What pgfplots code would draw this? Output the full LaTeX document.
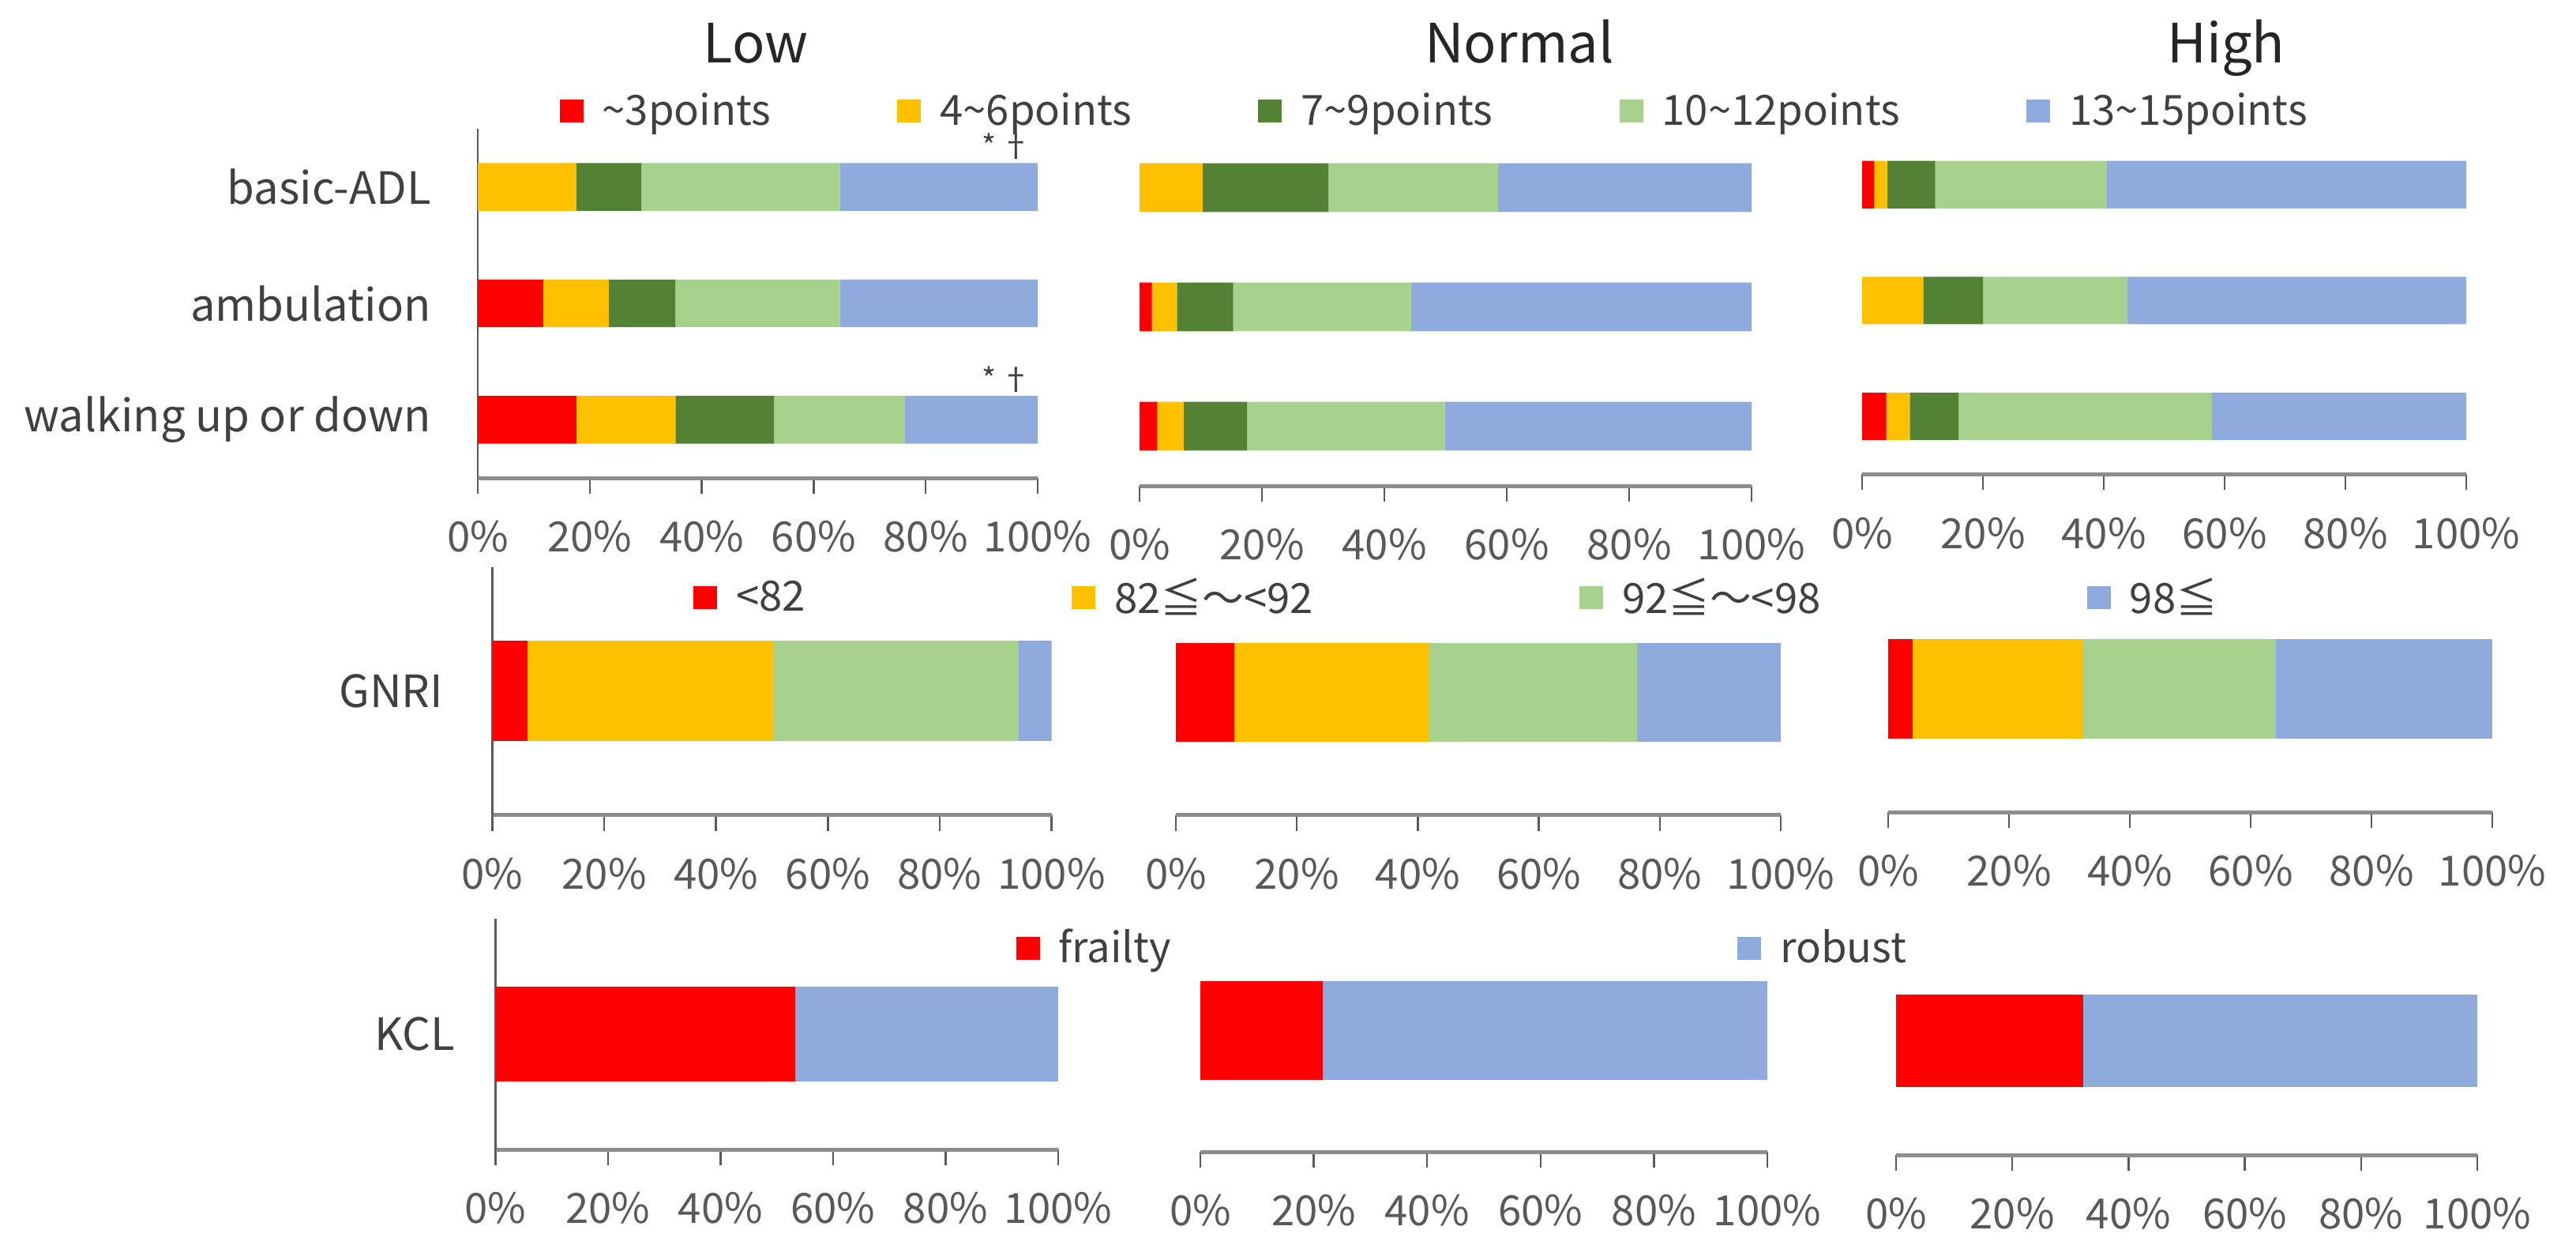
\documentclass[border=0pt]{standalone}
\usepackage{pgfplots}
\pgfplotsset{compat=1.18}
\usepackage{fontspec}
\setmainfont{Noto Sans CJK JP}

\definecolor{cRed}{HTML}{FF0000}
\definecolor{cYel}{HTML}{FFC000}
\definecolor{cDkG}{HTML}{548235}
\definecolor{cLtG}{HTML}{A9D18E}
\definecolor{cBlu}{HTML}{8FAADC}
\definecolor{txtdark}{HTML}{404040}
\definecolor{txttick}{HTML}{595959}
\definecolor{axgray}{HTML}{8C8C8C}

\newcommand{\fnt}{\fontsize{15}{18}\selectfont}
\newcommand{\cfnt}{\fontsize{16}{19}\selectfont}

\pgfplotsset{
  panel/.style={
    scale only axis,
    xbar stacked,
    enlargelimits=false,
    xmin=0, xmax=100,
    xtick={0,20,40,60,80,100},
    /pgf/number format/assume math mode=true,
    xticklabel={\pgfmathprintnumber{\tick}\%},
    xticklabel style={font=\fnt, text=txttick, yshift=-2.2mm},
    yticklabel style={font=\cfnt, text=txtdark},
    axis x line*=bottom,
    x axis line style={draw=axgray, line width=0.5mm},
    y axis line style={draw=txttick, line width=0.25mm},
    tick align=outside,
    major tick length=2mm,
    xtick style={draw=txttick, line width=0.25mm},
    ytick style={draw=none},
    every axis plot post/.append style={draw=none,
      legend image code/.code={\fill[##1] (0mm,-1.45mm) rectangle (3mm,1.45mm);}},
    legend style={draw=none, fill=none, font=\fnt, text=txtdark,
      inner sep=0pt, anchor=west, legend columns=-1,
      /tikz/every odd column/.append style={column sep=1.7mm}},
  },
  noy/.style={axis y line=none, ytick=\empty},
}

\begin{document}
\begin{tikzpicture}
\useasboundingbox (0,0) rectangle (326.2mm,157.5mm);

% titles
\node[anchor=base, font=\fontsize{19.5}{24}\selectfont, text=black!85] at (95.7mm,149.5mm) {Low};
\node[anchor=base, font=\fontsize{19.5}{24}\selectfont, text=black!85] at (192.4mm,149.5mm) {Normal};
\node[anchor=base, font=\fontsize{19.5}{24}\selectfont, text=black!85] at (281.9mm,149.5mm) {High};

% ---------- top row: basic-ADL, ambulation, walking ----------
\begin{axis}[panel, bar width=0.41, at={(60.5mm,97mm)}, anchor=south west,
  width=70.9mm, height=44.2mm, ymin=0.5, ymax=3.5,
  ytick={1,2,3}, yticklabels={walking up or down,ambulation,basic-ADL},
  axis y line*=left, yticklabel style={xshift=-2.7mm},
  legend style={at={(0.145,1.051)},
    /tikz/every even column/.append style={column sep=15.3mm}}]
\addplot[fill=cRed] coordinates {(0,3) (11.7,2) (17.6,1)};
\addplot[fill=cYel] coordinates {(17.6,3) (11.7,2) (17.7,1)};
\addplot[fill=cDkG] coordinates {(11.6,3) (11.9,2) (17.6,1)};
\addplot[fill=cLtG] coordinates {(35.5,3) (29.4,2) (23.4,1)};
\addplot[fill=cBlu] coordinates {(35.3,3) (35.3,2) (23.7,1)};
\legend{\textasciitilde3points, 4\textasciitilde6points, 7\textasciitilde9points, 10\textasciitilde12points, 13\textasciitilde15points}
\node[anchor=south, font=\fontsize{11}{12}\selectfont, text=txtdark, inner sep=1pt] at (axis cs:94.5,3.21) {*\,†};
\node[anchor=south, font=\fontsize{11}{12}\selectfont, text=txtdark, inner sep=1pt] at (axis cs:94.5,1.21) {*\,†};
\end{axis}

\begin{axis}[panel, noy, bar width=0.41, at={(144.3mm,96.0mm)}, anchor=south west,
  width=77.5mm, height=45.3mm, ymin=0.5, ymax=3.5]
\addplot[fill=cRed] coordinates {(0,3) (2.0,2) (2.9,1)};
\addplot[fill=cYel] coordinates {(10.3,3) (4.1,2) (4.3,1)};
\addplot[fill=cDkG] coordinates {(20.6,3) (9.2,2) (10.4,1)};
\addplot[fill=cLtG] coordinates {(27.7,3) (29.1,2) (32.3,1)};
\addplot[fill=cBlu] coordinates {(41.4,3) (55.6,2) (50.1,1)};
\end{axis}

\begin{axis}[panel, noy, bar width=0.41, at={(235.8mm,97.46mm)}, anchor=south west,
  width=76.5mm, height=44.0mm, ymin=0.5, ymax=3.5]
\addplot[fill=cRed] coordinates {(2.0,3) (0,2) (4.0,1)};
\addplot[fill=cYel] coordinates {(2.2,3) (10.1,2) (3.9,1)};
\addplot[fill=cDkG] coordinates {(7.9,3) (9.9,2) (8.1,1)};
\addplot[fill=cLtG] coordinates {(28.4,3) (23.9,2) (41.9,1)};
\addplot[fill=cBlu] coordinates {(59.5,3) (56.1,2) (42.1,1)};
\end{axis}

% ---------- middle row: GNRI ----------
\begin{axis}[panel, bar width=0.405, at={(62.35mm,54.33mm)}, anchor=south west,
  width=70.8mm, height=31.37mm, ymin=0.5, ymax=1.5,
  ytick={1}, yticklabels={GNRI},
  axis y line*=left, yticklabel style={xshift=-3.0mm},
  legend style={at={(0.359,0.877)},
    /tikz/every even column/.append style={column sep=33mm}}]
\addplot[fill=cRed] coordinates {(6.3,1)};
\addplot[fill=cYel] coordinates {(44.0,1)};
\addplot[fill=cLtG] coordinates {(43.8,1)};
\addplot[fill=cBlu] coordinates {(5.9,1)};
\legend{<82, 82≦～<92, 92≦～<98, 98≦}
\end{axis}

\begin{axis}[panel, noy, bar width=0.405, at={(148.9mm,54.33mm)}, anchor=south west,
  width=76.6mm, height=31.0mm, ymin=0.5, ymax=1.5]
\addplot[fill=cRed] coordinates {(9.6,1)};
\addplot[fill=cYel] coordinates {(32.2,1)};
\addplot[fill=cLtG] coordinates {(34.4,1)};
\addplot[fill=cBlu] coordinates {(23.8,1)};
\end{axis}

\begin{axis}[panel, noy, bar width=0.405, at={(239.1mm,54.7mm)}, anchor=south west,
  width=76.5mm, height=31.2mm, ymin=0.5, ymax=1.5]
\addplot[fill=cRed] coordinates {(4.0,1)};
\addplot[fill=cYel] coordinates {(28.2,1)};
\addplot[fill=cLtG] coordinates {(32.0,1)};
\addplot[fill=cBlu] coordinates {(35.8,1)};
\end{axis}

% ---------- bottom row: KCL ----------
\begin{axis}[panel, bar width=0.41, at={(62.75mm,12.0mm)}, anchor=south west,
  width=71.25mm, height=29.2mm, ymin=0.5, ymax=1.5,
  ytick={1}, yticklabels={KCL},
  axis y line*=left, yticklabel style={xshift=-1.9mm},
  legend style={at={(0.924,0.873)},
    /tikz/every even column/.append style={column sep=71mm}}]
\addplot[fill=cRed] coordinates {(53.2,1)};
\addplot[fill=cBlu] coordinates {(46.8,1)};
\legend{frailty, robust}
\end{axis}

\begin{axis}[panel, noy, bar width=0.41, at={(152.0mm,11.7mm)}, anchor=south west,
  width=71.8mm, height=30.7mm, ymin=0.5, ymax=1.5]
\addplot[fill=cRed] coordinates {(21.6,1)};
\addplot[fill=cBlu] coordinates {(78.4,1)};
\end{axis}

\begin{axis}[panel, noy, bar width=0.405, at={(240.1mm,11.3mm)}, anchor=south west,
  width=73.6mm, height=28.9mm, ymin=0.5, ymax=1.5]
\addplot[fill=cRed] coordinates {(32.2,1)};
\addplot[fill=cBlu] coordinates {(67.8,1)};
\end{axis}

\end{tikzpicture}
\end{document}
